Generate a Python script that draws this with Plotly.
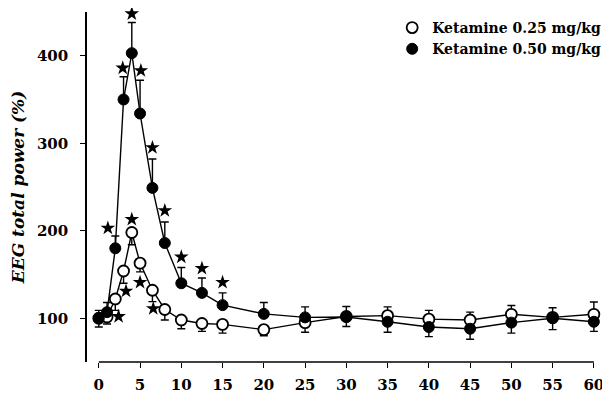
import plotly.graph_objects as go

time_min = [0, 1, 2, 3, 4, 5, 6.5, 8, 10, 12.5, 15, 20, 25, 30, 35, 40, 45, 50, 55, 60]

low_dose = [100, 101.5, 122, 154, 198, 163, 132, 110, 98, 94, 93, 87, 95, 102, 103, 99, 98, 104.5, 101, 104.5]
low_err_up = [0, 0, 0, 0, 0, 0, 0, 0, 0, 0, 0, 0, 0, 0, 10, 10, 9, 10, 0, 14]
low_err_down = [10, 8, 13, 14, 14, 10, 13, 12, 10, 9, 10, 7, 11, 0, 0, 0, 0, 0, 0, 0]

high_dose = [100, 107, 180, 350, 403, 334, 249, 186, 140, 129, 115, 105, 101, 101.5, 96, 90, 88, 95, 100, 96]
high_err_up = [9, 11, 14, 26, 35, 38, 33, 24, 18, 17, 14, 13, 12, 12, 0, 0, 0, 0, 12, 0]
high_err_down = [0, 0, 0, 0, 0, 0, 0, 0, 0, 0, 0, 0, 0, 11, 12, 11, 12, 12, 13, 11]

star_x = [1.1, 2.9, 4.0, 5.1, 6.5, 8.0, 10.0, 12.5, 15.0, 4.0, 2.4, 3.3, 5.0, 6.6]
star_y = [203, 386, 448, 383, 295, 223, 170, 157, 141, 213, 102, 131, 141, 111]

x_ticks = [0, 5, 10, 15, 20, 25, 30, 35, 40, 45, 50, 55, 60]
y_ticks = [100, 200, 300, 400]

series_names = ["Ketamine 0.25 mg/kg", "Ketamine 0.50 mg/kg"]

font_family = "DejaVu Serif"

open_marker = dict(symbol="circle", size=11, color="white", line=dict(color="black", width=1.8))
filled_marker = dict(symbol="circle", size=11, color="black", line=dict(color="black", width=1))

fig = go.Figure()

fig.add_trace(go.Scatter(
    x=time_min, y=low_dose, mode="lines+markers", showlegend=False, cliponaxis=False,
    line=dict(color="black", width=1.4), marker=open_marker,
    error_y=dict(type="data", symmetric=False, array=low_err_up, arrayminus=low_err_down,
                 color="black", thickness=1.4, width=4),
))

fig.add_trace(go.Scatter(
    x=time_min, y=high_dose, mode="lines+markers", showlegend=False, cliponaxis=False,
    line=dict(color="black", width=1.4), marker=filled_marker,
    error_y=dict(type="data", symmetric=False, array=high_err_up, arrayminus=high_err_down,
                 color="black", thickness=1.4, width=4),
))

fig.add_trace(go.Scatter(
    x=star_x, y=star_y, mode="markers", showlegend=False, hoverinfo="skip", cliponaxis=False,
    marker=dict(symbol="star", size=11, color="black"),
))

# legend-only entries (marker without line, as in the reference)
fig.add_trace(go.Scatter(x=[None], y=[None], mode="markers", name=series_names[0], marker=open_marker))
fig.add_trace(go.Scatter(x=[None], y=[None], mode="markers", name=series_names[1], marker=filled_marker))

fig.add_shape(type="line", xref="x", yref="paper", x0=0, x1=60, y0=0, y1=0,
              line=dict(color="black", width=1.5))

fig.update_layout(
    width=602, height=389,
    margin=dict(l=79, r=4, t=4, b=35),
    paper_bgcolor="white", plot_bgcolor="white",
    font=dict(family=font_family, color="black"),
    legend=dict(x=1.016, y=1.0, xanchor="right", yanchor="top",
                font=dict(family=font_family, size=14, color="black", weight="bold"),
                bgcolor="rgba(0,0,0,0)", tracegroupgap=0, itemwidth=30),
    xaxis=dict(range=[-1.43, 60.5], tickvals=x_ticks, ticks="outside", ticklen=5, tickwidth=1.3,
               tickcolor="black", showline=False, showgrid=False, zeroline=False,
               ticklabeloverflow="allow", ticklabelstandoff=4,
               tickfont=dict(family=font_family, size=15, weight="bold")),
    yaxis=dict(range=[50, 450], tickvals=y_ticks, ticks="outside", ticklen=5, tickwidth=1.3,
               tickcolor="black", showline=True, linecolor="black", linewidth=1.5,
               showgrid=False, zeroline=False, ticklabelstandoff=9,
               tickfont=dict(family=font_family, size=15, weight="bold"),
               title=dict(text="<i>EEG total power (%)</i>", standoff=14,
                          font=dict(family=font_family, size=17, weight="bold"))),
)

fig.write_html("out.html")
